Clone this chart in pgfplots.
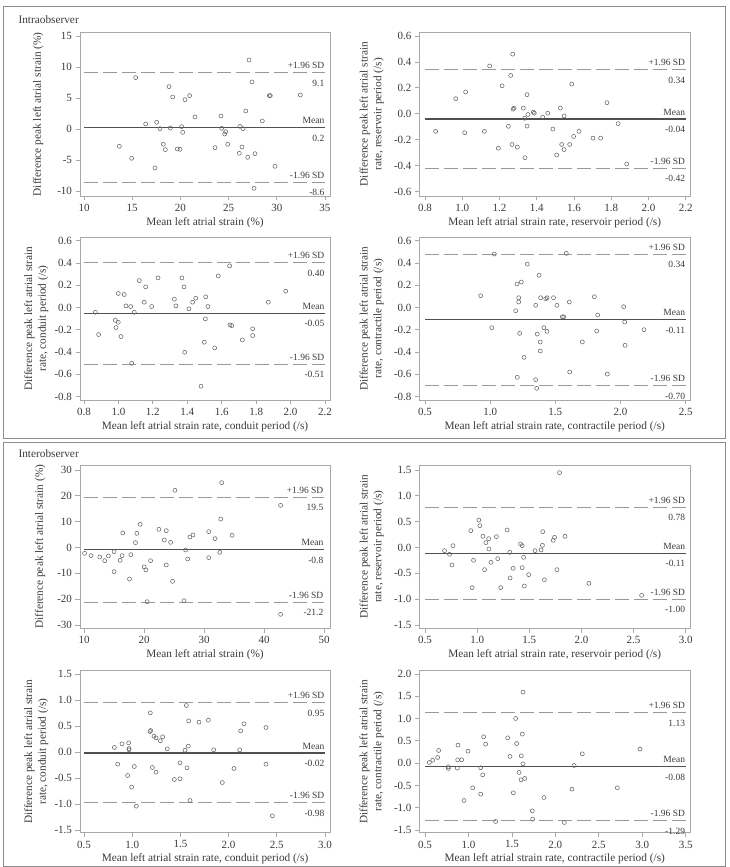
\documentclass[border=0pt]{standalone}
\usepackage{fontspec}
\setmainfont{Liberation Serif}
\usepackage{pgfplots}
\pgfplotsset{compat=1.18}

\definecolor{boxgray}{HTML}{A8A8A8}
\definecolor{sdgray}{HTML}{9A9A9A}
\definecolor{meangray}{HTML}{505050}
\definecolor{ptgray}{HTML}{666666}
\definecolor{txtgray}{HTML}{3A3A3A}
\definecolor{framegray}{HTML}{8C8C8C}

\tikzset{
  note/.style={font=\fontsize{9.5}{11}\selectfont, text=txtgray, inner xsep=0.5pt, inner ysep=0pt},
}

\pgfplotsset{
  ba/.style={
    scale only axis,
    anchor=south west,
    clip=false,
    axis line style={draw=boxgray, line width=0.9pt},
    tick pos=left,
    tick align=outside,
    major tick length=4.5pt,
    tick style={draw=boxgray, line width=0.8pt},
    tick label style={font=\fontsize{11}{13}\selectfont, text=txtgray},
    label style={font=\fontsize{11.3}{13.8}\selectfont, text=txtgray},
    /pgf/number format/assume math mode=true,
    scaled ticks=false,
    xlabel style={at={(axis description cs:0.5,0)}, anchor=center, yshift=-26.5pt},
    ylabel style={align=center, anchor=center},
  },
  dec/.style={
    /pgf/number format/fixed,
    /pgf/number format/fixed zerofill,
    /pgf/number format/precision=1,
  },
  leftcol/.style={width=250pt},
  rightcol/.style={width=270.5pt,
    ylabel style={at={(axis description cs:-0.177,0.5)}}},
  sdline/.style={draw=sdgray, line width=1pt, dash pattern=on 14pt off 5pt, forget plot},
  meanline/.style={draw=meangray, line width=1.2pt, forget plot},
  pts/.style={only marks, mark=o, mark size=2pt,
    mark options={draw=ptgray, line width=0.55pt}},
}

% Limits of agreement: #1,#2 span of the lines; #3 upper, #4 mean, #5 lower;
% #6,#7,#8 the printed values
\newcommand{\baLines}[8]{%
  \addplot[sdline] coordinates {(#1,#3) (#2,#3)};
  \addplot[meanline] coordinates {(#1,#4) (#2,#4)};
  \addplot[sdline] coordinates {(#1,#5) (#2,#5)};
  \node[note, anchor=base east, yshift=4pt] at (axis cs:#2,#3) {+1.96 SD};
  \node[note, anchor=base east, yshift=-13.5pt] at (axis cs:#2,#3) {#6};
  \node[note, anchor=base east, yshift=4pt] at (axis cs:#2,#4) {Mean};
  \node[note, anchor=base east, yshift=-13.5pt] at (axis cs:#2,#4) {#7};
  \node[note, anchor=base east, yshift=4pt] at (axis cs:#2,#5) {-1.96 SD};
  \node[note, anchor=base east, yshift=-13.5pt] at (axis cs:#2,#5) {#8};
}

\begin{document}
\begin{tikzpicture}
\path[use as bounding box] (0pt,0pt) rectangle (730pt,867pt);

% panel frames
\draw[framegray, line width=1pt] (3.5pt,428.5pt) rectangle (725pt,860pt);
\draw[framegray, line width=1pt] (3.5pt,0.6pt) rectangle (725pt,424pt);
\node[anchor=west, font=\fontsize{11.3}{13}\selectfont, text=txtgray] at (15pt,847pt) {Intraobserver};
\node[anchor=west, font=\fontsize{11.3}{13}\selectfont, text=txtgray] at (15pt,413pt) {Interobserver};

% ---------------- Intraobserver: strain ----------------
\begin{axis}[ba, leftcol, at={(80pt,671pt)}, height=163.5pt,
  xmin=9.585, xmax=35.52, ymin=-10.81, ymax=15.56,
  xtick={10,15,20,25,30,35}, ytick={-10,-5,0,5,10,15},
  ylabel style={at={(axis description cs:-0.168,0.5)}},
  xlabel={Mean left atrial strain (\%)},
  ylabel={Difference peak left atrial strain (\%)}]
\baLines{10}{35}{9.1}{0.2}{-8.6}{9.1}{0.2}{-8.6}
\addplot[pts] table {
13.67 -2.80
14.94 -4.73
15.36 8.28
16.40 0.81
17.37 -6.29
17.54 1.08
17.88 0.05
18.23 -2.47
18.44 -3.33
18.82 6.83
18.96 0.16
19.20 5.16
19.68 -3.23
19.96 -3.28
20.13 0.38
20.24 -0.54
20.48 4.73
20.96 5.38
21.51 1.94
23.59 -3.01
24.21 2.10
24.28 0.11
24.59 -0.81
24.70 -0.43
24.90 -2.47
26.11 -3.92
26.18 0.43
26.39 -2.90
26.49 0.05
26.78 2.90
26.98 -4.57
27.12 11.13
27.43 7.58
27.64 -9.57
27.74 -3.98
28.50 1.29
29.23 5.38
29.33 5.38
29.81 -6.02
32.44 5.48
};
\end{axis}

% ---------------- Intraobserver: reservoir ----------------
\begin{axis}[ba, rightcol, dec, at={(419.5pt,671pt)}, height=163.5pt,
  xmin=0.7705, xmax=2.223, ymin=-0.633, ymax=0.627,
  xtick={0.8,1.0,1.2,1.4,1.6,1.8,2.0,2.2},
  ytick={-0.6,-0.4,-0.2,0,0.2,0.4,0.6},
  xlabel={Mean left atrial strain rate, reservoir period (/s)},
  ylabel={Difference peak left atrial strain\\rate, reservoir period (/s)}]
\baLines{0.8}{2.2}{0.34}{-0.04}{-0.42}{0.34}{-0.04}{-0.42}
\addplot[pts] table {
0.857 -0.135
0.965 0.117
1.013 -0.145
1.018 0.169
1.119 -0.135
1.147 0.369
1.194 -0.265
1.214 0.216
1.248 -0.096
1.260 0.296
1.267 -0.236
1.271 0.460
1.273 0.036
1.278 0.044
1.296 -0.257
1.328 0.044
1.335 -0.034
1.337 -0.338
1.348 0.148
1.348 -0.094
1.353 -0.005
1.382 0.013
1.387 0.005
1.432 -0.026
1.459 0.005
1.487 -0.117
1.507 -0.317
1.527 0.044
1.534 -0.236
1.547 -0.016
1.547 -0.275
1.577 -0.236
1.588 0.229
1.598 -0.174
1.627 -0.135
1.702 -0.187
1.743 -0.187
1.777 0.086
1.837 -0.075
1.883 -0.387
};
\end{axis}

% ---------------- Intraobserver: conduit ----------------
\begin{axis}[ba, leftcol, dec, at={(80pt,467pt)}, height=162.7pt,
  xmin=0.7768, xmax=2.2291, ymin=-0.8296, ymax=0.6305,
  xtick={0.8,1.0,1.2,1.4,1.6,1.8,2.0,2.2},
  ytick={-0.8,-0.6,-0.4,-0.2,0,0.2,0.4,0.6},
  ylabel style={at={(axis description cs:-0.175,0.5)}},
  xlabel={Mean left atrial strain rate, conduit period (/s)},
  ylabel={Difference peak left atrial strain\\rate, conduit period (/s)}]
\baLines{0.8}{2.2}{0.40}{-0.05}{-0.51}{0.40}{-0.05}{-0.51}
\addplot[pts] table {
0.866 -0.042
0.885 -0.242
0.982 -0.114
0.986 -0.179
0.999 0.126
0.999 -0.132
1.015 -0.260
1.034 0.117
1.044 0.015
1.071 0.009
1.077 -0.500
1.092 -0.042
1.121 0.242
1.158 0.185
1.150 0.048
1.193 0.009
1.230 0.266
1.325 0.075
1.334 0.015
1.369 0.266
1.381 0.185
1.385 -0.401
1.410 -0.012
1.431 0.048
1.449 0.084
1.499 -0.311
1.480 -0.706
1.507 0.096
1.505 -0.102
1.520 0.009
1.580 0.284
1.559 -0.362
1.646 0.374
1.648 -0.156
1.658 -0.162
1.720 -0.290
1.780 -0.191
1.780 -0.251
1.871 0.048
1.972 0.147
};
\end{axis}

% ---------------- Intraobserver: contractile ----------------
\begin{axis}[ba, rightcol, dec, at={(419.5pt,467pt)}, height=162.7pt,
  xmin=0.4578, xmax=2.533, ymin=-0.8296, ymax=0.6305,
  xtick={0.5,1.0,1.5,2.0,2.5},
  ytick={-0.8,-0.6,-0.4,-0.2,0,0.2,0.4,0.6},
  xlabel={Mean left atrial strain rate, contractile period (/s)},
  ylabel={Difference peak left atrial strain\\rate, contractile period (/s)}]
\baLines{0.5}{2.5}{0.48}{-0.11}{-0.70}{0.34}{-0.11}{-0.70}
\addplot[pts] table {
0.927 0.106
1.012 -0.181
1.032 0.480
1.196 -0.029
1.206 0.211
1.208 -0.626
1.219 0.088
1.219 0.050
1.226 -0.232
1.239 0.229
1.260 -0.447
1.285 0.390
1.349 -0.647
1.349 0.020
1.357 -0.725
1.361 -0.238
1.375 0.289
1.384 -0.309
1.384 -0.390
1.387 0.088
1.412 -0.181
1.426 0.079
1.436 -0.214
1.437 0.088
1.486 0.088
1.512 0.020
1.554 -0.083
1.564 -0.083
1.584 0.486
1.607 0.050
1.610 -0.579
1.707 -0.309
1.799 0.097
1.817 -0.211
1.825 -0.067
1.899 -0.597
2.024 0.008
2.032 -0.130
2.035 -0.339
2.180 -0.199
};
\end{axis}

% ---------------- Interobserver: strain ----------------
\begin{axis}[ba, leftcol, at={(80pt,238.7pt)}, height=163.3pt,
  xmin=9.33, xmax=51.0, ymin=-31.28, ymax=31.94,
  xtick={10,20,30,40,50}, ytick={-30,-20,-10,0,10,20,30},
  ylabel style={at={(axis description cs:-0.16,0.5)}},
  xlabel={Mean left atrial strain (\%)},
  ylabel={Difference peak left atrial strain (\%)}]
\baLines{10}{50}{19.5}{-0.8}{-21.2}{19.5}{-0.8}{-21.2}
\addplot[pts] table {
10.10 -2.26
11.17 -3.16
12.62 -3.68
13.45 -5.10
14.07 -3.29
15.01 -1.61
15.01 -9.35
16.02 -4.97
16.35 -3.16
16.46 5.61
17.58 -12.19
17.80 -2.77
18.58 1.87
18.80 5.48
19.36 8.97
20.03 -7.48
20.31 -8.65
20.53 -20.97
21.09 -5.10
22.48 7.03
23.38 2.90
23.71 6.52
23.71 -6.77
24.44 2.00
24.76 -13.10
25.15 22.13
26.66 -20.58
26.94 -0.97
27.27 -4.45
27.66 4.06
28.16 4.84
30.78 6.13
30.78 -3.94
31.84 3.42
32.62 -1.87
32.79 11.03
32.95 25.10
34.68 4.71
42.76 16.32
42.76 -25.87
};
\end{axis}

% ---------------- Interobserver: reservoir ----------------
\begin{axis}[ba, rightcol, dec, at={(419.5pt,238.7pt)}, height=163.3pt,
  xmin=0.447, xmax=3.041, ymin=-1.564, ymax=1.597,
  xtick={0.5,1.0,1.5,2.0,2.5,3.0},
  ytick={-1.5,-1.0,-0.5,0,0.5,1.0,1.5},
  xlabel={Mean left atrial strain rate, reservoir period (/s)},
  ylabel={Difference peak left atrial strain\\rate, reservoir period (/s)}]
\baLines{0.5}{3.0}{0.78}{-0.11}{-1.00}{0.78}{-0.11}{-1.00}
\addplot[pts] table {
0.687 -0.061
0.735 -0.132
0.758 -0.339
0.768 0.035
0.939 0.326
0.952 -0.777
0.965 -0.248
1.016 0.532
1.026 0.423
1.055 0.216
1.071 -0.429
1.084 0.094
1.110 0.171
1.113 -0.029
1.132 -0.287
1.184 0.210
1.197 -0.216
1.226 -0.777
1.287 0.339
1.313 -0.094
1.316 -0.590
1.345 -0.403
1.416 0.068
1.432 0.035
1.432 -0.390
1.445 -0.190
1.452 -0.745
1.494 -0.526
1.555 -0.061
1.626 0.042
1.613 -0.048
1.629 0.306
1.645 -0.623
1.729 0.139
1.742 0.197
1.765 -0.429
1.790 1.448
1.842 0.216
2.071 -0.694
2.577 -0.926
};
\end{axis}

% ---------------- Interobserver: conduit ----------------
\begin{axis}[ba, leftcol, dec, at={(80pt,34.3pt)}, height=162pt,
  xmin=0.4585, xmax=3.052, ymin=-1.552, ymax=1.5635,
  xtick={0.5,1.0,1.5,2.0,2.5,3.0},
  ytick={-1.5,-1.0,-0.5,0,0.5,1.0,1.5},
  ylabel style={at={(axis description cs:-0.175,0.5)}},
  xlabel={Mean left atrial strain rate, conduit period (/s)},
  ylabel={Difference peak left atrial strain\\rate, conduit period (/s)}]
\baLines{0.5}{3.0}{0.95}{-0.02}{-0.98}{0.95}{-0.02}{-0.98}
\addplot[pts] table {
0.815 0.087
0.849 -0.234
0.894 0.157
0.953 -0.452
0.963 0.176
0.967 0.067
0.967 0.042
0.994 -0.676
1.022 -0.279
1.043 -1.042
1.185 0.394
1.192 0.413
1.188 0.753
1.209 -0.298
1.226 0.304
1.247 0.272
1.247 -0.388
1.292 0.215
1.316 0.292
1.364 0.061
1.437 -0.529
1.496 -0.208
1.496 -0.516
1.548 0.035
1.562 0.894
1.568 -0.304
1.582 0.112
1.586 0.599
1.600 -0.933
1.693 0.574
1.790 0.612
1.845 0.042
1.935 -0.587
2.056 -0.317
2.115 0.042
2.125 0.407
2.160 0.542
2.388 0.471
2.388 -0.234
2.454 -1.228
};
\end{axis}

% ---------------- Interobserver: contractile ----------------
\begin{axis}[ba, rightcol, dec, at={(419.5pt,34.3pt)}, height=162pt,
  xmin=0.4367, xmax=3.5495, ymin=-1.5606, ymax=2.074,
  xtick={0.5,1.0,1.5,2.0,2.5,3.0,3.5},
  ytick={-1.5,-1.0,-0.5,0,0.5,1.0,1.5,2.0},
  xlabel={Mean left atrial strain rate, contractile period (/s)},
  ylabel={Difference peak left atrial strain\\rate, contractile period (/s)}]
\baLines{0.5}{3.5}{1.13}{-0.08}{-1.29}{1.13}{-0.08}{-1.29}
\addplot[pts] table {
0.550 0.015
0.588 0.067
0.646 0.127
0.657 0.284
0.769 -0.082
0.769 -0.120
0.880 0.404
0.872 -0.112
0.876 0.075
0.922 0.075
0.949 -0.838
0.995 0.269
1.049 -0.553
1.141 -0.696
1.141 -0.105
1.164 -0.262
1.175 0.591
1.198 0.426
1.313 -1.309
1.451 0.568
1.478 0.150
1.516 -0.666
1.543 1.002
1.555 0.441
1.582 -0.209
1.605 -0.374
1.608 0.165
1.620 0.651
1.628 -0.015
1.628 1.593
1.647 -0.344
1.735 -1.070
1.739 -1.257
1.869 -0.770
2.103 -1.331
2.191 -0.583
2.215 -0.052
2.310 0.209
2.713 -0.553
2.974 0.314
};
\end{axis}
\end{tikzpicture}
\end{document}
